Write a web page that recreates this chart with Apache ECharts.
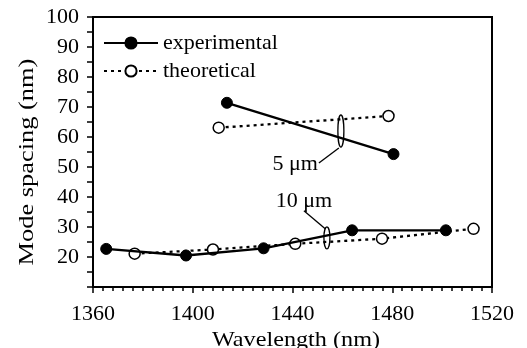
<!DOCTYPE html>
<html><head><meta charset="utf-8">
<script src="https://cdn.jsdelivr.net/npm/echarts@6/dist/echarts.min.js"></script>
<style>html,body{margin:0;padding:0;background:#fff}#c{width:527px;height:348px}</style>
</head><body><div id="c"></div>
<script>
const expLowerX = [1365.3, 1397.3, 1428.4, 1463.9, 1501.5];
const expLowerY = [22.7, 20.5, 22.9, 28.9, 28.9];
const expUpperX = [1413.7, 1480.5];
const expUpperY = [71.4, 54.3];
const theoLowerX = [1376.7, 1408.1, 1441.1, 1475.9, 1512.6];
const theoLowerY = [21.1, 22.5, 24.4, 26.1, 29.4];
const theoUpperX = [1410.4, 1478.5];
const theoUpperY = [63.1, 67.0];
const seriesNames = ['experimental', 'theoretical'];
const xTickLabels = [1360, 1400, 1440, 1480, 1520];
const yTickLabels = [20, 30, 40, 50, 60, 70, 80, 90, 100];
const annotLabels = ['5 μm', '10 μm'];
const annotAnchors = [[1459.4, 62.0], [1453.8, 26.4]];
const axisTitles = ['Wavelength (nm)', 'Mode spacing (nm)'];

const FONT = "'Liberation Serif','Times New Roman',serif";
const zip = (xs, ys) => xs.map((x, i) => [x, ys[i]]);

const expStyle = {
  type: 'line', name: seriesNames[0], symbol: 'circle', symbolSize: 11,
  itemStyle: { color: '#000', borderColor: '#000', borderWidth: 1 },
  lineStyle: { color: '#000', width: 2.3, type: 'solid' }, z: 3
};
const theoStyle = {
  type: 'line', name: seriesNames[1], symbol: 'circle', symbolSize: 11,
  itemStyle: { color: '#fff', borderColor: '#000', borderWidth: 1.5 },
  lineStyle: { color: '#000', width: 2.3, type: [3, 4] }, z: 2
};

const chart = echarts.init(document.getElementById('c'), null, { renderer: 'canvas' });
chart.setOption({
  animation: false,
  backgroundColor: '#fff',
  grid: { left: 93, right: 35, top: 17, bottom: 61, show: true, borderColor: '#000', borderWidth: 2, backgroundColor: 'transparent' },
  legend: {
    data: seriesNames, orient: 'vertical', left: 103, top: 32, itemGap: 6, padding: 0,
    itemWidth: 54, itemHeight: 14,
    textStyle: { fontFamily: FONT, fontSize: 22, color: '#000', lineHeight: 22 }
  },
  xAxis: {
    type: 'value', min: xTickLabels[0], max: xTickLabels[xTickLabels.length - 1], interval: 40,
    axisLine: { lineStyle: { color: '#000', width: 2 } },
    axisTick: { length: 6, lineStyle: { color: '#000', width: 1.5 } },
    minorTick: { show: true, splitNumber: 10, length: 4, lineStyle: { color: '#000', width: 1.5 } },
    splitLine: { show: false },
    axisLabel: { margin: 16, color: '#000', fontFamily: FONT, fontSize: 22,
      formatter: v => xTickLabels.includes(v) ? String(v) : '' }
  },
  yAxis: {
    type: 'value', min: 10, max: 100, interval: 10,
    axisLine: { lineStyle: { color: '#000', width: 2 } },
    axisTick: { length: 6, lineStyle: { color: '#000', width: 1.5 } },
    minorTick: { show: true, splitNumber: 2, length: 6, lineStyle: { color: '#000', width: 1.5 } },
    splitLine: { show: false },
    axisLabel: { margin: 14, color: '#000', fontFamily: FONT, fontSize: 22,
      formatter: v => yTickLabels.includes(v) ? String(v) : '' }
  },
  series: [
    Object.assign({}, expStyle, { data: zip(expLowerX, expLowerY) }),
    Object.assign({}, expStyle, { data: zip(expUpperX, expUpperY) }),
    Object.assign({}, theoStyle, { data: zip(theoLowerX, theoLowerY) }),
    Object.assign({}, theoStyle, { data: zip(theoUpperX, theoUpperY) })
  ]
});

const p5 = chart.convertToPixel({ gridIndex: 0 }, annotAnchors[0]);
const p10 = chart.convertToPixel({ gridIndex: 0 }, annotAnchors[1]);
const ink = { stroke: '#000', lineWidth: 1.3, fill: null };
chart.setOption({
  graphic: [
    { type: 'text', x: 296, y: 340, scaleX: 1.1,
      style: { text: axisTitles[0], font: '22px ' + FONT, fill: '#000', textAlign: 'center', textVerticalAlign: 'middle' } },
    { type: 'text', x: 27, y: 162, rotation: Math.PI / 2, scaleX: 1.2,
      style: { text: axisTitles[1], font: '22px ' + FONT, fill: '#000', textAlign: 'center', textVerticalAlign: 'middle' } },
    { type: 'ellipse', shape: { cx: p5[0], cy: p5[1], rx: 3, ry: 16 }, style: ink, z: 10 },
    { type: 'line', shape: { x1: p5[0] - 2, y1: p5[1] + 17, x2: p5[0] - 22, y2: p5[1] + 32 }, style: ink, z: 10 },
    { type: 'text', x: p5[0] - 23, y: p5[1] + 33, z: 10,
      style: { text: annotLabels[0], font: '22px ' + FONT, fill: '#000', textAlign: 'right', textVerticalAlign: 'middle' } },
    { type: 'ellipse', shape: { cx: p10[0], cy: p10[1], rx: 3, ry: 11 }, style: ink, z: 10 },
    { type: 'line', shape: { x1: p10[0] - 1.7, y1: p10[1] - 9, x2: p10[0] - 23, y2: p10[1] - 27 }, style: ink, z: 10 },
    { type: 'text', x: p10[0] - 23, y: p10[1] - 37, z: 10,
      style: { text: annotLabels[1], font: '22px ' + FONT, fill: '#000', textAlign: 'center', textVerticalAlign: 'middle' } }
  ]
});
</script>
</body></html>
